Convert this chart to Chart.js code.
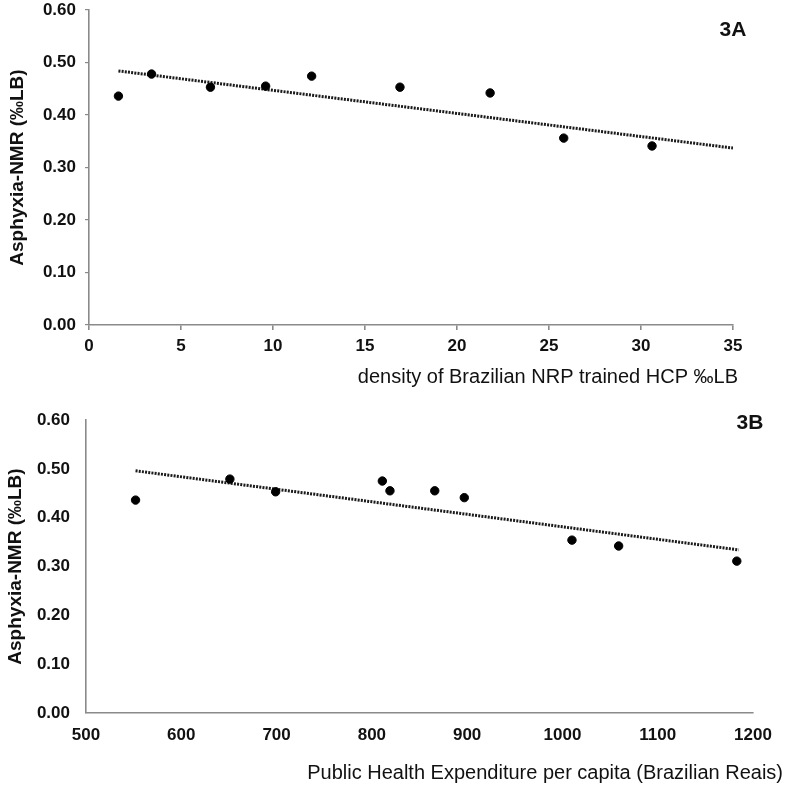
<!DOCTYPE html>
<html>
<head>
<meta charset="utf-8">
<script src="https://cdn.jsdelivr.net/npm/chart.js@4.4.1/dist/chart.umd.min.js"></script>
<style>
  body { margin: 0; background: #fff; }
  canvas { display: block; }
</style>
</head>
<body>
<canvas id="chartA" width="789" height="395"></canvas>
<canvas id="chartB" width="789" height="395"></canvas>
<script>
// 3A: density of NRP trained HCP vs asphyxia-NMR
const densityX = [1.6, 3.4, 6.6, 9.6, 12.1, 16.9, 21.8, 25.8, 30.6];
const densityY = [0.436, 0.478, 0.453, 0.455, 0.474, 0.453, 0.442, 0.356, 0.341];
const densityTrendX = [1.6, 35];
const densityTrendY = [0.484, 0.337];

// 3B: public health expenditure vs asphyxia-NMR
const spendX = [552, 651, 699, 811, 819, 866, 897, 1010, 1059, 1183];
const spendY = [0.436, 0.479, 0.453, 0.475, 0.455, 0.455, 0.441, 0.354, 0.342, 0.311];
const spendTrendX = [552, 1185];
const spendTrendY = [0.496, 0.334];

const yTicks = [0, 0.1, 0.2, 0.3, 0.4, 0.5, 0.6];
const yTitle = 'Asphyxia-NMR (‰LB)';

const FONT = '"Liberation Sans", Arial, sans-serif';
const AXIS = '#8a8a8a';

function toPoints(xs, ys) {
    return xs.map((x, i) => ({ x: x, y: ys[i] }));
}

// panel label + x axis title drawn at fixed spots
const panelText = {
    id: 'panelText',
    afterDraw(chart, args, opts) {
        const ctx = chart.ctx;
        ctx.save();
        ctx.fillStyle = '#111';
        ctx.textBaseline = 'middle';
        ctx.font = 'bold 21px ' + FONT;
        ctx.textAlign = 'center';
        ctx.fillText(opts.label, opts.labelX, opts.labelY);
        ctx.font = '20px ' + FONT;
        ctx.textAlign = 'right';
        ctx.fillText(opts.title, opts.titleRight, opts.titleY);
        ctx.restore();
    }
};

function makeChart(id, xs, ys, tx, ty, cfg) {
    const ctx = document.getElementById(id).getContext('2d');
    return new Chart(ctx, {
        type: 'scatter',
        data: {
            datasets: [{
                data: toPoints(xs, ys),
                backgroundColor: '#000',
                borderColor: '#000',
                pointRadius: 4.2,
                pointHoverRadius: 4.2
            },
            {
                data: toPoints(tx, ty),
                showLine: true,
                borderColor: '#1a1a1a',
                borderWidth: 3,
                borderDash: [2, 1.2],
                pointRadius: 0,
                fill: false
            }]
        },
        plugins: [panelText],
        options: {
            responsive: false,
            animation: false,
            layout: { padding: { left: 0, right: cfg.padRight, top: cfg.padTop, bottom: 0 } },
            plugins: {
                legend: { display: false },
                tooltip: { enabled: false },
                panelText: cfg.text
            },
            scales: {
                x: {
                    type: 'linear',
                    min: cfg.xMin,
                    max: cfg.xMax,
                    afterBuildTicks: (scale) => {
                        scale.ticks = cfg.xTicks.map(v => ({ value: v }));
                    },
                    afterFit: (scale) => {
                        scale.height = cfg.xHeight;
                        scale.paddingLeft = 0;
                        scale.paddingRight = 0;
                    },
                    border: { color: AXIS, width: 1.6 },
                    grid: {
                        display: true,
                        drawOnChartArea: false,
                        drawTicks: cfg.xTickMarks,
                        tickLength: 5,
                        color: AXIS,
                        lineWidth: 1.6
                    },
                    ticks: {
                        padding: cfg.xTickPad,
                        color: '#111',
                        font: { family: FONT, size: 17, weight: 'bold' },
                        maxRotation: 0,
                        callback: (v) => String(v)
                    }
                },
                y: {
                    type: 'linear',
                    min: 0,
                    max: 0.6,
                    afterBuildTicks: (scale) => {
                        scale.ticks = yTicks.map(v => ({ value: v }));
                    },
                    afterFit: (scale) => {
                        scale.width = cfg.yWidth;
                        scale.paddingTop = 0;
                        scale.paddingBottom = 0;
                    },
                    border: { color: AXIS, width: 1.6 },
                    grid: {
                        display: true,
                        drawOnChartArea: false,
                        drawTicks: cfg.yTickMarks,
                        tickLength: 4,
                        color: AXIS,
                        lineWidth: 1.2
                    },
                    ticks: {
                        padding: cfg.yTickPad,
                        color: '#111',
                        font: { family: FONT, size: 17, weight: 'bold' },
                        callback: (v) => Number(v).toFixed(2)
                    },
                    title: {
                        display: true,
                        text: yTitle,
                        color: '#111',
                        font: { family: FONT, size: 19, weight: 'bold' },
                        padding: { top: cfg.yTitlePad, bottom: 0 }
                    }
                }
            }
        }
    });
}

makeChart('chartA', densityX, densityY, densityTrendX, densityTrendY, {
    xMin: 0, xMax: 35, xTicks: [0, 5, 10, 15, 20, 25, 30, 35],
    padRight: 56, padTop: 10,
    xHeight: 70, yWidth: 89,
    xTickMarks: true, xTickPad: 6,
    yTickMarks: true, yTickPad: 9,
    yTitlePad: 6,
    text: { label: '3A', labelX: 733, labelY: 30,
            title: 'density of Brazilian NRP trained HCP ‰LB', titleRight: 738, titleY: 377 }
});

makeChart('chartB', spendX, spendY, spendTrendX, spendTrendY, {
    xMin: 500, xMax: 1200, xTicks: [500, 600, 700, 800, 900, 1000, 1100, 1200],
    padRight: 36, padTop: 25,
    xHeight: 77, yWidth: 86,
    xTickMarks: false, xTickPad: 12,
    yTickMarks: false, yTickPad: 16,
    yTitlePad: 4,
    text: { label: '3B', labelX: 750, labelY: 28,
            title: 'Public Health Expenditure per capita (Brazilian Reais)', titleRight: 783, titleY: 378 }
});
</script>
</body>
</html>
